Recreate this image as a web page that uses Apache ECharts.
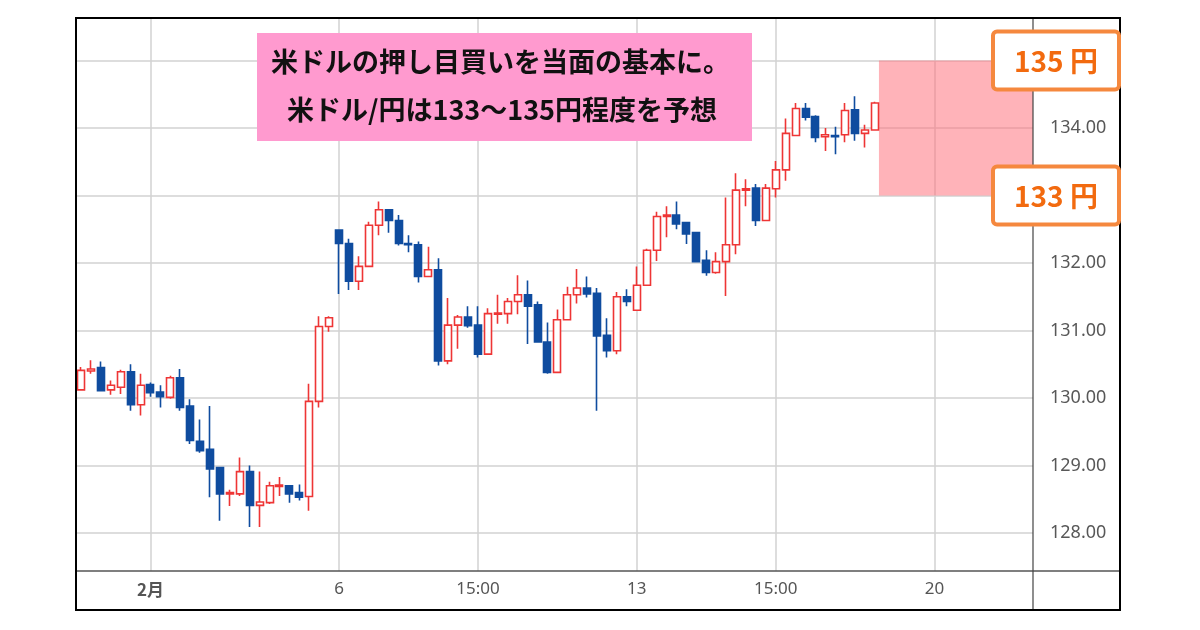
<!DOCTYPE html>
<html><head><meta charset="utf-8">
<script src="https://cdn.jsdelivr.net/npm/echarts@6/dist/echarts.min.js"></script>
<style>html,body{margin:0;padding:0;background:#fff}#c{width:1200px;height:630px}</style>
</head><body><div id="c"></div>
<script>
const opens  = [130.12,130.40,130.45,130.12,130.16,130.39,129.90,130.20,130.09,130.01,130.30,129.88,129.36,129.24,128.97,128.58,128.58,128.91,128.41,128.45,128.69,128.70,128.60,128.54,129.95,131.06,132.49,132.29,131.73,131.95,132.56,132.79,132.63,132.29,132.27,131.80,131.90,130.55,131.08,131.20,131.08,130.65,131.24,131.25,131.43,131.53,131.38,130.83,130.38,131.16,131.53,131.63,131.55,130.93,130.70,131.50,131.30,131.67,132.19,132.69,132.71,132.60,132.45,132.04,131.86,132.02,132.27,133.08,133.11,132.63,133.10,133.38,133.89,134.29,134.17,133.87,133.89,133.90,134.27,133.92,133.97];
const closes = [130.41,130.43,130.11,130.19,130.39,129.90,130.19,130.08,130.02,130.30,129.86,129.37,129.22,128.95,128.58,128.60,128.91,128.41,128.46,128.70,128.71,128.58,128.53,129.95,131.06,131.19,132.29,131.73,131.95,132.56,132.79,132.63,132.29,132.27,131.80,131.90,130.55,131.08,131.20,131.07,130.65,131.25,131.26,131.43,131.53,131.36,130.83,130.38,131.16,131.53,131.63,131.54,130.92,130.70,131.50,131.43,131.67,132.19,132.69,132.71,132.58,132.43,132.02,131.86,132.02,132.27,133.08,133.10,132.63,133.11,133.38,133.92,134.29,134.16,133.86,133.90,133.87,134.26,133.92,133.97,134.37];
const lows   = [130.11,130.36,130.10,130.05,130.06,129.81,129.74,130.02,129.86,129.99,129.81,129.32,129.19,128.53,128.18,128.40,128.55,128.09,128.09,128.43,128.55,128.45,128.48,128.33,129.86,130.98,131.54,131.60,131.60,131.94,132.41,132.45,132.26,132.16,131.71,131.79,130.48,130.50,130.73,131.04,130.60,130.64,131.10,131.10,131.24,130.80,130.82,130.36,130.37,131.15,131.40,131.49,129.81,130.60,130.65,131.36,131.29,131.66,132.03,132.38,132.50,132.28,132.01,131.81,131.84,131.51,132.13,132.84,132.55,132.62,132.97,133.22,133.88,134.11,133.79,133.66,133.61,133.79,133.81,133.71,133.96];
const highs  = [130.46,130.56,130.54,130.26,130.42,130.50,130.36,130.23,130.19,130.33,130.43,129.98,129.68,129.88,128.98,128.64,129.12,129.00,128.91,128.76,128.83,128.71,128.72,130.21,131.21,131.21,132.50,132.36,132.10,132.61,132.91,132.80,132.71,132.41,132.32,132.24,132.07,131.48,131.23,131.36,131.36,131.33,131.53,131.48,131.82,131.74,131.43,131.12,131.31,131.65,131.91,131.80,131.63,131.18,131.57,131.61,131.95,132.21,132.76,132.84,132.91,132.61,132.46,132.19,132.16,132.97,133.33,133.24,133.17,133.17,133.51,134.14,134.37,134.37,134.19,134.00,134.02,134.37,134.47,134.05,134.39];

const xTickPos    = [7, 26, 40, 56, 70, 86];
const xTickLabels = ['2月', '6', '15:00', '13', '15:00', '20'];
const yGridValues  = [128, 129, 130, 131, 132, 133, 134, 135];
const yLabelValues = [128, 129, 130, 131, 132, 134];
const forecastRange  = [133, 135];
const forecastLabels = ['135 円', '133 円'];
const noteLines = ['米ドルの押し目買いを当面の基本に。', '米ドル/円は133～135円程度を予想'];

const X_MIN = -0.5, X_MAX = 95.92, FORECAST_START = 80.4;
const candles = opens.map((o, i) => [i, o, closes[i], lows[i], highs[i]]);

const RED = '#EE3535', BLUE = '#0F4C9F';
const chart = echarts.init(document.getElementById('c'));
chart.setOption({
  animation: false,
  backgroundColor: '#fff',
  grid: { left: 76, right: 167, top: 18, bottom: 59, containLabel: false },
  xAxis: {
    type: 'value', min: X_MIN, max: X_MAX,
    axisLine: { show: false },
    axisTick: { show: false, customValues: xTickPos },
    axisLabel: {
      customValues: xTickPos, margin: 10, color: '#555', fontSize: 17, fontFamily: 'Noto Sans',
      formatter: v => { const k = xTickPos.indexOf(Math.round(v)); const t = k >= 0 ? xTickLabels[k] : ''; return k === 0 ? '{b|' + t + '}' : t; },
      rich: { b: { fontWeight: 'bold', color: '#555', fontSize: 17, fontFamily: 'Noto Sans CJK JP' } }
    },
    splitLine: { show: true, lineStyle: { color: '#d2d2d2', width: 1.5 } }
  },
  yAxis: {
    type: 'value', position: 'right', min: 127.437, max: 135.63, scale: true,
    axisLine: { show: false },
    axisTick: { show: false, customValues: yGridValues },
    axisLabel: { customValues: yLabelValues, margin: 17, color: '#585858', fontSize: 18, fontFamily: 'Noto Sans',
      formatter: v => Number(v).toFixed(2) },
    splitLine: { show: true, lineStyle: { color: '#d2d2d2', width: 1.5 } }
  },
  series: [{
    type: 'candlestick',
    data: candles,
    encode: { x: 0, y: [1, 2, 3, 4] },
    barWidth: 7.5,
    itemStyle: { color: '#ffffff', color0: BLUE, borderColor: RED, borderColor0: BLUE, borderWidth: 1.6 },
    markArea: {
      silent: true,
      itemStyle: { color: 'rgba(255,110,120,0.52)' },
      data: [[{ xAxis: FORECAST_START, yAxis: forecastRange[1] }, { xAxis: X_MAX, yAxis: forecastRange[0] }]]
    }
  }]
});

const yHi = chart.convertToPixel({ yAxisIndex: 0 }, forecastRange[1]);
const yLo = chart.convertToPixel({ yAxisIndex: 0 }, forecastRange[0]);
const noteFont = 'bold 27px "Noto Sans CJK JP"';
const tagFont = 'bold 28px "Noto Sans CJK JP"';
function tag(y, text) {
  return { type: 'group', z: 100, children: [
    { type: 'rect', shape: { x: 993, y: y - 29, width: 126, height: 58, r: 4 }, style: { fill: '#fff', stroke: '#F5883E', lineWidth: 4 }, z: 100 },
    { type: 'text', x: 1056, y: y + 1, style: { text: text, font: tagFont, fill: '#F26A0F', align: 'center', verticalAlign: 'middle' }, z: 101 }
  ]};
}
chart.setOption({
  graphic: [
    { type: 'line', shape: { x1: 76, y1: 571, x2: 1120, y2: 571 }, style: { stroke: '#555', lineWidth: 1.5 }, z: 90 },
    { type: 'line', shape: { x1: 1033, y1: 18, x2: 1033, y2: 610 }, style: { stroke: '#444', lineWidth: 1.2 }, z: 90 },
    { type: 'rect', shape: { x: 76, y: 18, width: 1044, height: 592 }, style: { fill: 'none', stroke: '#000', lineWidth: 2 }, z: 95 },
    { type: 'rect', shape: { x: 257, y: 33, width: 495, height: 108 }, style: { fill: '#FF9ACF' }, z: 96 },
    { type: 'text', x: 271, y: 62, style: { text: noteLines[0], font: noteFont, fill: '#111', align: 'left', verticalAlign: 'middle' }, z: 97 },
    { type: 'text', x: 287, y: 110, style: { text: noteLines[1], font: noteFont, fill: '#111', align: 'left', verticalAlign: 'middle' }, z: 97 },
    tag(yHi, forecastLabels[0]),
    tag(yLo, forecastLabels[1])
  ]
});
</script></body></html>
